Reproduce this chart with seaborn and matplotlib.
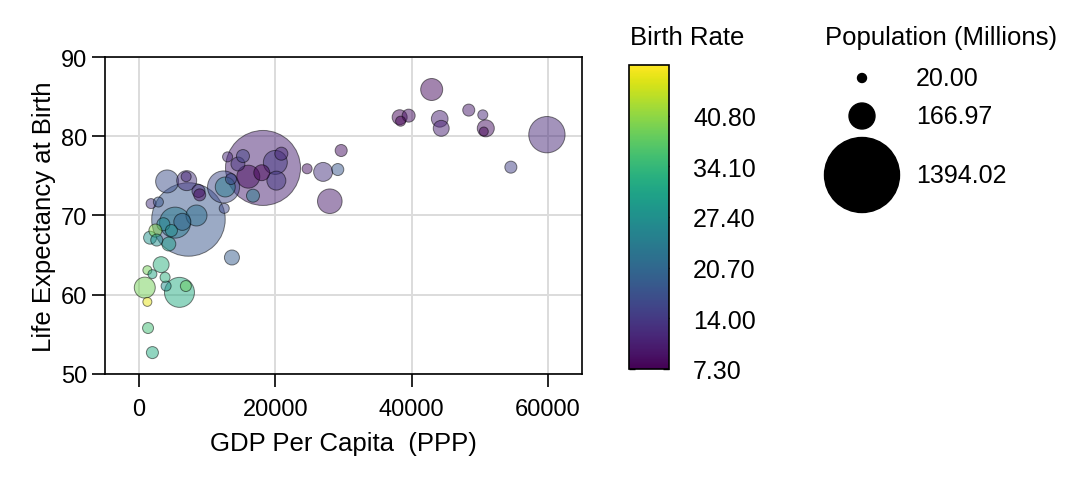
import numpy as np
import pandas as pd
import seaborn as sns
import matplotlib.pyplot as plt
import matplotlib as mpl

sns.set_theme(style="ticks")
plt.rcParams['font.family'] = ['Liberation Sans', 'DejaVu Sans']
plt.rcParams.update({"text.color": "black", "axes.labelcolor": "black",
                     "xtick.color": "black", "ytick.color": "black"})

# values
gdp = [42940, 38240, 39560, 38380, 44120, 44340, 48380, 50440, 50880, 50590,
       59850, 54560, 29660, 24660, 27010, 29160, 27990, 18190, 12990, 15250,
       14510, 16030, 18010, 20000, 20880, 20150, 16720, 12400, 12650, 13490,
       12500, 7250, 4120, 6990, 6910, 8720, 8900, 1765, 2840, 5290,
       8430, 6350, 3570, 4750, 2400, 1620, 2600, 4370, 3240, 1220,
       1960, 3820, 3970, 840, 5930, 6870, 1220, 1320, 1960, 13630]
life = [85.9, 82.4, 82.6, 81.9, 82.2, 81.0, 83.3, 82.7, 81.0, 80.6,
        80.2, 76.1, 78.2, 75.9, 75.5, 75.8, 71.8, 76.0, 77.4, 77.5,
        76.5, 74.9, 75.4, 76.7, 77.8, 74.4, 72.5, 73.6, 73.6, 74.6,
        70.9, 69.5, 74.3, 74.4, 74.9, 73.1, 72.6, 71.5, 71.7, 69.1,
        70.0, 69.2, 68.9, 68.1, 68.1, 67.2, 66.9, 66.4, 63.8, 63.1,
        62.6, 62.2, 61.1, 60.9, 60.3, 61.1, 59.1, 55.8, 52.7, 64.7]
pop = [120, 56, 42, 25, 69, 63, 36, 25, 72, 20,
       327, 36, 36, 25, 89, 36, 150, 1394.02, 25, 42,
       48, 131, 63, 142, 42, 89, 42, 255, 99, 30,
       25, 1339, 131, 99, 25, 42, 36, 25, 25, 238,
       109, 72, 42, 36, 42, 42, 36, 48, 63, 20,
       20, 25, 25, 109, 223, 30, 20, 30, 36, 56]
birth = [8.5, 8.0, 9.0, 7.3, 11, 11, 10, 12, 9, 7.5,
         12, 15, 9, 9, 13, 18, 10, 11, 12, 15,
         13, 8.5, 7.5, 14, 12, 14, 24, 16, 24, 16,
         16, 18, 17, 13, 12, 12, 8.5, 13, 18, 24,
         22, 20, 26, 27, 40, 28, 27, 30, 33, 39,
         31, 33, 27, 39, 32, 38, 46, 35, 32, 19]

birth_ticks = [7.30, 14.00, 20.70, 27.40, 34.10, 40.80]
legend_pops = [20.00, 166.97, 1394.02]

df = pd.DataFrame({"gdp": gdp, "life": life, "pop": pop, "birth": birth})
df = df.sort_values("pop", ascending=False)

bmin, bmax = 7.3, 47.5
pmin, pmax = 20.0, 1394.02
k = 2916 / pmax  # marker area per million people

fig = plt.figure(figsize=(10.8, 4.81), dpi=100)
ax = fig.add_axes([0.0972, 0.2204, 0.4417, 0.659])

sns.scatterplot(data=df, x="gdp", y="life", hue="birth", size="pop",
                palette="viridis", hue_norm=(bmin, bmax),
                sizes=(pmin * k, pmax * k), size_norm=(pmin, pmax),
                alpha=0.5, edgecolor="black", linewidth=0.7,
                legend=False, ax=ax, zorder=3)

ax.set_xlim(-5000, 65000)
ax.set_ylim(50, 90)
ax.set_xticks([0, 20000, 40000, 60000])
ax.set_yticks([50, 60, 70, 80, 90])
ax.grid(True, color="#dcdcdc", linewidth=1.4, zorder=0)
for s in ax.spines.values():
    s.set_linewidth(1.2)
    s.set_color("black")
ax.tick_params(labelsize=17, length=9.5, width=1.2, color="black")
ax.tick_params(axis="x", pad=8)
ax.tick_params(axis="y", pad=3)
ax.set_xlabel("GDP Per Capita  (PPP)", fontsize=18.5, labelpad=8)
ax.set_ylabel("Life Expectancy at Birth", fontsize=18.5, labelpad=4)

# colorbar
cax = fig.add_axes([0.5827, 0.2308, 0.037, 0.632])
sm = mpl.cm.ScalarMappable(norm=mpl.colors.Normalize(bmin, bmax), cmap="viridis")
cb = fig.colorbar(sm, cax=cax, ticks=birth_ticks, format="%.2f")
cb.outline.set_linewidth(1.2)
cb.outline.set_edgecolor("black")
cax.tick_params(direction="in", left=True, right=True, length=4, width=1,
                labelsize=18, pad=17, color="black")
fig.text(0.583, 0.92, "Birth Rate", fontsize=18.5, ha="left", va="center")

# size legend in figure pixel space
lax = fig.add_axes([0, 0, 1, 1], facecolor="none")
lax.set_xlim(0, 1080)
lax.set_ylim(481, 0)
lax.axis("off")
row_y = [79, 117, 176]
lax.scatter([862] * 3, row_y, s=[p * k for p in legend_pops], color="black")
for y, p in zip(row_y, legend_pops):
    lax.text(916, y, f"{p:.2f}", fontsize=18, va="center", ha="left")
lax.text(825, 38, "Population (Millions)", fontsize=18.5, va="center", ha="left")

fig.savefig("out.png", dpi=100)
